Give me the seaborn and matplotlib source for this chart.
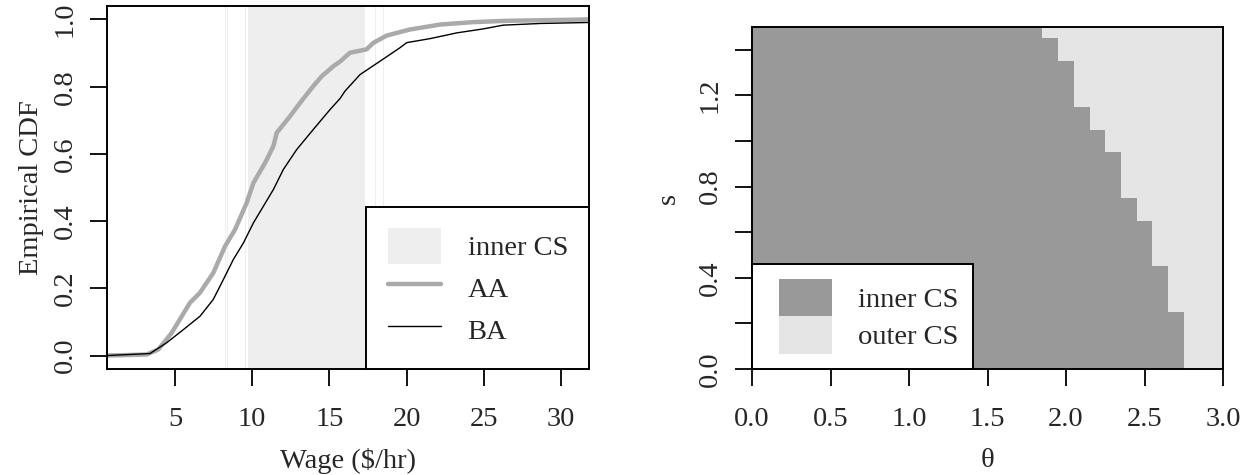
import numpy as np
import pandas as pd
import matplotlib
matplotlib.use("Agg")
import matplotlib.pyplot as plt
import seaborn as sns
from matplotlib.patches import Patch, Rectangle
from matplotlib.lines import Line2D
from matplotlib.colors import ListedColormap
from matplotlib.legend_handler import HandlerPatch

# ---------------- data ----------------
aa_wage = [0.57, 3.16, 3.92, 4.78, 5.97, 6.62, 7.48, 8.24, 8.89, 9.64, 10.08, 10.83,
           11.37, 11.59, 12.45, 13.10, 13.96, 14.50, 15.26, 15.69, 16.33, 17.40,
           17.83, 18.70, 20.20, 22.20, 24.30, 26.50, 31.85]
aa_cdf = [0.000, 0.003, 0.018, 0.067, 0.157, 0.187, 0.246, 0.325, 0.375, 0.454, 0.514, 0.573,
          0.623, 0.663, 0.712, 0.752, 0.802, 0.831, 0.861, 0.875, 0.901, 0.911,
          0.930, 0.952, 0.970, 0.985, 0.992, 0.996, 1.000]

ba_wage = [0.57, 3.38, 4.46, 5.54, 6.62, 7.48, 8.13, 8.78, 9.43, 10.08, 10.72, 11.37,
           12.02, 12.88, 13.96, 15.04, 15.69, 16.01, 16.98, 18.28, 19.57, 20.00,
           21.52, 23.24, 24.97, 26.24, 28.64, 31.85]
ba_cdf = [0.000, 0.006, 0.038, 0.077, 0.117, 0.167, 0.226, 0.286, 0.335, 0.395, 0.444, 0.494,
          0.554, 0.613, 0.673, 0.732, 0.765, 0.787, 0.836, 0.876, 0.916, 0.931,
          0.943, 0.960, 0.972, 0.983, 0.988, 0.991]

# inner confidence-set bands on the wage axis
cs_band_lo = [8.27, 8.36, 9.55, 9.63, 9.75, 17.98, 18.26, 18.47]
cs_band_hi = [8.32, 8.40, 9.59, 9.67, 17.27, 18.02, 18.30, 18.52]

# theta / s grid for the right panel
theta_values = [0.0, 0.1, 0.2, 0.3, 0.4, 0.5, 0.6, 0.7, 0.8, 0.9, 1.0, 1.1, 1.2, 1.3, 1.4, 1.5,
                1.6, 1.7, 1.8, 1.9, 2.0, 2.1, 2.2, 2.3, 2.4, 2.5, 2.6, 2.7, 2.8, 2.9, 3.0]
s_values = [0.0, 0.1, 0.2, 0.3, 0.4, 0.5, 0.6, 0.7, 0.8, 0.9, 1.0, 1.1, 1.2, 1.3, 1.4, 1.5]
inner_theta_max = [2.7, 2.7, 2.7, 2.6, 2.6, 2.5, 2.5, 2.4, 2.3, 2.3, 2.2, 2.1, 2.0, 2.0, 1.9, 1.8]

left_xticks = [5, 10, 15, 20, 25, 30]
left_yticks = [0.0, 0.2, 0.4, 0.6, 0.8, 1.0]
right_xticks = [0.0, 0.5, 1.0, 1.5, 2.0, 2.5, 3.0]
right_yticks = [0.0, 0.2, 0.4, 0.6, 0.8, 1.0, 1.2, 1.4]
right_ylabels = ["0.0", "", "0.4", "", "0.8", "", "1.2", ""]

# ---------------- style ----------------
sns.set_style("white")
plt.rcParams['font.family'] = ['Liberation Serif', 'DejaVu Serif']
FS = 20.5
TICK_LEN = 12

fig = plt.figure(figsize=(12.43, 4.75), dpi=100)
W, H = 1243, 475

def px_axes(x0, y0, x1, y1):
    return fig.add_axes([x0 / W, (H - y1) / H, (x1 - x0) / W, (y1 - y0) / H])

def style_axes(ax):
    for sp in ax.spines.values():
        sp.set_visible(True)
        sp.set_color('black')
        sp.set_linewidth(1.4)
    ax.tick_params(axis='both', direction='out', length=TICK_LEN, width=1.3,
                   labelsize=FS, color='black', bottom=True, left=True)
    ax.tick_params(axis='x', pad=15)
    ax.tick_params(axis='y', pad=9, labelrotation=90)
    for lab in ax.get_yticklabels():
        lab.set_va('center')

# ---------------- left panel ----------------
ax1 = px_axes(107, 6, 589, 369)
for lo, hi in zip(cs_band_lo, cs_band_hi):
    ax1.axvspan(lo, hi, color='#EEEEEE', lw=0, zorder=0)

df_aa = pd.DataFrame({'wage': aa_wage, 'cdf': aa_cdf})
df_ba = pd.DataFrame({'wage': ba_wage, 'cdf': ba_cdf})
sns.lineplot(data=df_aa, x='wage', y='cdf', ax=ax1, color='#AAAAAA', lw=3.2,
             estimator=None, zorder=2)
sns.lineplot(data=df_ba, x='wage', y='cdf', ax=ax1, color='black', lw=1.0,
             estimator=None, zorder=3)

ax1.set_xlim(0.6, 31.8)
ax1.set_ylim(-0.04, 1.04)
ax1.set_xticks(left_xticks)
ax1.set_xticklabels([str(t) for t in left_xticks])
ax1.set_yticks(left_yticks)
ax1.set_yticklabels([f"{t:.1f}" for t in left_yticks])
ax1.set_xlabel("Wage ($/hr)", fontsize=FS, labelpad=12)
ax1.set_ylabel("Empirical CDF", fontsize=FS, labelpad=6)
style_axes(ax1)

h1 = [Patch(facecolor='#EEEEEE', edgecolor='none'),
      Line2D([], [], color='#AAAAAA', lw=3.2),
      Line2D([], [], color='black', lw=1.0)]
leg1 = ax1.legend(h1, ["inner CS", "AA", "BA"], loc='lower right', fontsize=FS,
                  frameon=True, fancybox=False, framealpha=1, edgecolor='black',
                  borderaxespad=0, borderpad=0.74, handlelength=1.86, handleheight=1.57,
                  handletextpad=0.95, labelspacing=0.21)
leg1.get_frame().set_linewidth(1.4)

# ---------------- right panel ----------------
ax2 = px_axes(752, 27, 1223, 369)
theta_arr = np.array(theta_values)
Z = np.array([[1 if th <= tm + 1e-9 else 0 for th in theta_arr] for tm in inner_theta_max])
theta_edges = np.concatenate([theta_arr - 0.05, [theta_arr[-1] + 0.05]])
s_arr = np.array(s_values)
s_edges = np.concatenate([s_arr - 0.05, [s_arr[-1] + 0.05]])
ax2.pcolormesh(theta_edges, s_edges, Z, cmap=ListedColormap(['#E5E5E5', '#999999']),
               vmin=0, vmax=1, shading='flat', zorder=0)
ax2.set_xlim(0, 3)
ax2.set_ylim(0, 1.5)
ax2.set_xticks(right_xticks)
ax2.set_xticklabels([f"{t:.1f}" for t in right_xticks])
ax2.set_yticks(right_yticks)
ax2.set_yticklabels(right_ylabels)
ax2.set_xlabel("θ", fontsize=FS, labelpad=12)
ax2.set_ylabel("s", fontsize=FS, labelpad=12)
style_axes(ax2)

FRAC = 1.86 / 2.28

def right_box(legend, orig_handle, xdescent, ydescent, width, height, fontsize):
    return Rectangle((-xdescent + width * (1 - FRAC), -ydescent), width * FRAC, height)

h2 = [Patch(facecolor='#999999', edgecolor='none'),
      Patch(facecolor='#E5E5E5', edgecolor='none')]
leg2 = ax2.legend(h2, ["inner CS", "outer CS"], loc='lower left', fontsize=FS,
                  frameon=True, fancybox=False, framealpha=1, edgecolor='black',
                  borderaxespad=0, borderpad=0.53, handlelength=2.28, handleheight=1.65,
                  handletextpad=0.91, labelspacing=0.0,
                  handler_map={Patch: HandlerPatch(patch_func=right_box)})
leg2.get_frame().set_linewidth(1.4)

fig.savefig("out.png", dpi=100)
